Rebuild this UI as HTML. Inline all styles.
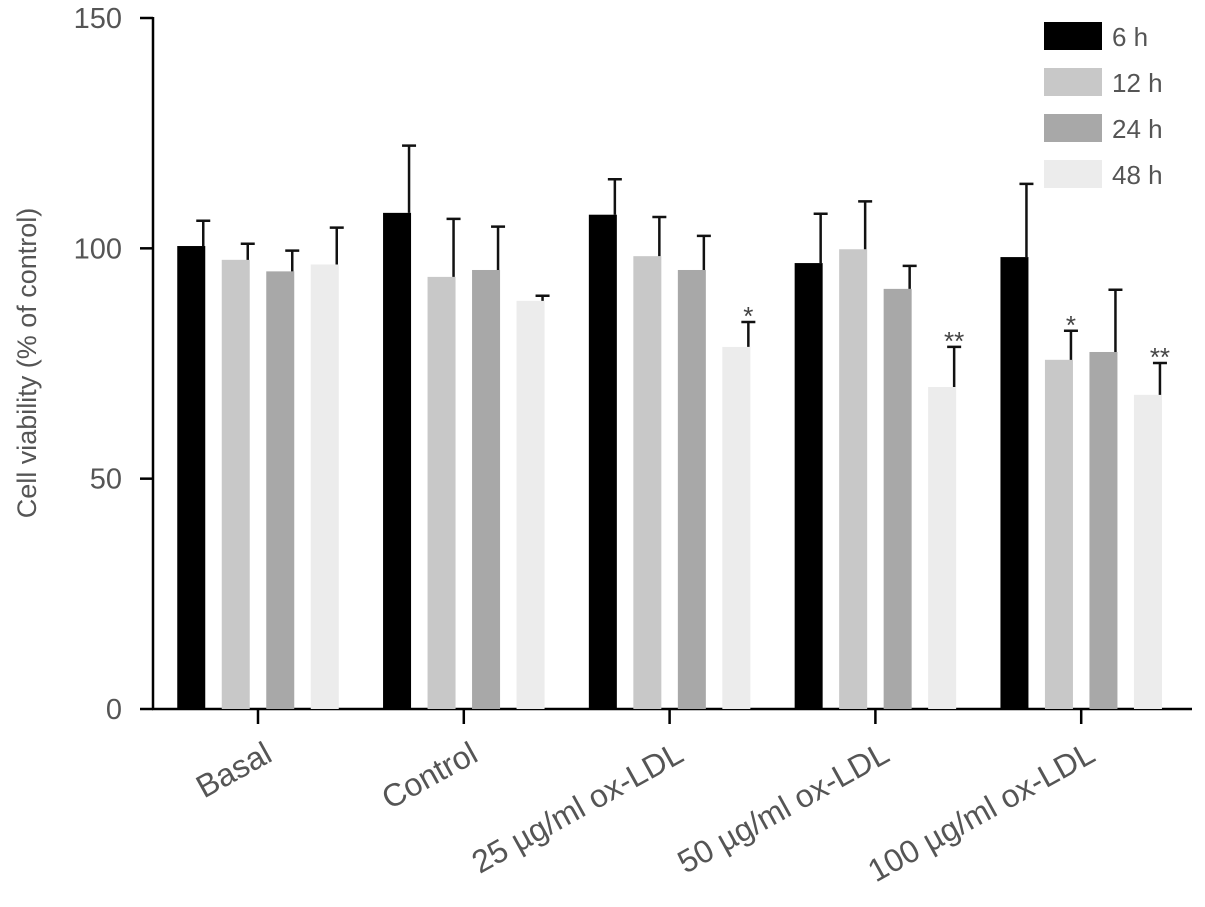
<!DOCTYPE html>
<html><head><meta charset="utf-8"><style>
body{margin:0;background:#fff}
svg{display:block;font-family:"Liberation Sans",sans-serif}
</style></head><body>
<svg id="chart" width="1205" height="907"></svg>
<script>
const categories=["Basal","Control","25 µg/ml ox-LDL","50 µg/ml ox-LDL","100 µg/ml ox-LDL"];
const seriesNames=["6 h","12 h","24 h","48 h"];
const v6=[100.5,107.7,107.3,96.8,98.1];
const v12=[97.5,93.8,98.3,99.8,75.8];
const v24=[95,95.3,95.3,91.2,77.5];
const v48=[96.5,88.6,78.6,69.9,68.2];
const e6=[106,122.3,115,107.5,114];
const e12=[101,106.4,106.8,110.2,82.1];
const e24=[99.5,104.7,102.7,96.2,91];
const e48=[104.5,89.7,84,78.6,75.1];
const stars12=["","","","","*"];
const stars48=["","","*","**","**"];
const yTicks=[0,50,100,150];
const colors=["#000","#c8c8c8","#a8a8a8","#ececec"];
const svg=document.getElementById('chart');
const NS="http://www.w3.org/2000/svg";
function mk(t,a,p){const e=document.createElementNS(NS,t);for(const k in a)e.setAttribute(k,a[k]);(p||svg).appendChild(e);return e;}
const y=v=>709-v*(691/150);
const gx=i=>258+i*205.8;
const bx=(i,s)=>gx(i)+(s-1.5)*44.5;
const vals=[v6,v12,v24,v48],errs=[e6,e12,e24,e48];
let a=mk('line',{x1:153,y1:17,x2:153,y2:710,stroke:'#000','stroke-width':2.5});

a=mk('line',{x1:152,y1:709,x2:1192,y2:709,stroke:'#000','stroke-width':2.5});

yTicks.forEach(t=>{
 const l=mk('line',{x1:140,x2:153,y1:y(t),y2:y(t),stroke:'#000','stroke-width':2.5});
 
 const tx=mk('text',{x:122,y:y(t)+10,'text-anchor':'end','font-size':29,fill:'#555'});tx.textContent=t;
 
});
const yt=mk('text',{x:36,y:363,'text-anchor':'middle','font-size':27,fill:'#555',transform:'rotate(-90 36 363)'});
yt.textContent='Cell viability (% of control)';

categories.forEach((c,i)=>{
 const l=mk('line',{x1:gx(i),x2:gx(i),y1:709,y2:724,stroke:'#000','stroke-width':2.5});
 
 const ax=gx(i)+16,ay=760;
 const tx=mk('text',{x:ax,y:ay,'text-anchor':'end','font-size':32,fill:'#555',transform:`rotate(-29 ${ax} ${ay})`});
 tx.textContent=c;
 
 for(let s=0;s<4;s++){
  const x=bx(i,s),v=vals[s][i],e=errs[s][i];
  const r=mk('rect',{x:x-14,y:y(v),width:28,height:709-y(v),fill:colors[s]});
  
  const eb=mk('path',{d:`M${x+12} ${y(v)}V${y(e)}M${x+5} ${y(e)}H${x+19}`,stroke:'#111','stroke-width':2.5,fill:'none'});
  
 }
 [[1,stars12],[3,stars48]].forEach(([s,arr])=>{
  if(arr[i]){const st=mk('text',{x:bx(i,s)+12,y:y(errs[s][i])+3,'text-anchor':'middle','font-size':26,fill:'#444'});
  st.textContent=arr[i];}
 });
});
seriesNames.forEach((n,s)=>{
 const g=mk('g',{});
 mk('rect',{x:1044,y:22+s*46,width:58,height:28,fill:colors[s]},g);
 const t=mk('text',{x:1112,y:46+s*46,'font-size':26,fill:'#555'},g);t.textContent=n;
});
</script>
</body></html>
